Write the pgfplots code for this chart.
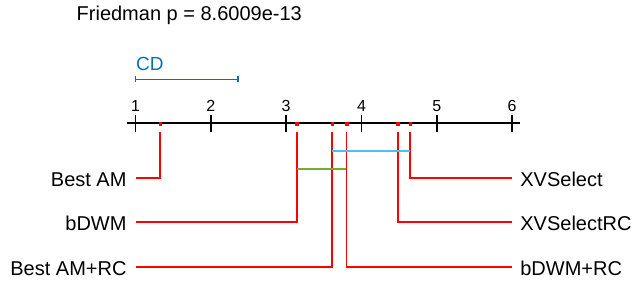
\documentclass[border=0pt]{standalone}
\usepackage{pgfplots}
\pgfplotsset{compat=1.18}
\usepackage{fontspec}
\setmainfont{Liberation Sans}
\definecolor{cdblue}{RGB}{0,114,189}
\definecolor{cliquecyan}{RGB}{77,190,238}
\definecolor{cliquegreen}{RGB}{119,172,48}
\begin{document}
\begin{tikzpicture}
\useasboundingbox (0,0) rectangle (644bp,294bp);
\begin{axis}[at={(0,0)}, anchor=south west, scale only axis,
  width=644bp, height=294bp,
  xmin=-0.7988, xmax=7.750, ymin=0, ymax=294, y dir=reverse,
  hide axis, clip=false]
% title
\node[anchor=base west, inner sep=0pt, font=\fontsize{20bp}{24bp}\selectfont] at (axis cs:0.2165,21) {Friedman p = 8.6009e-13};
% CD
\node[anchor=base west, inner sep=0pt, text=cdblue, font=\fontsize{19bp}{23bp}\selectfont] at (axis cs:1.006,70) {CD};
\addplot[cdblue, line width=1.6bp] coordinates {(1,79.3) (2.357,79.3)};
\addplot[cdblue, line width=1.6bp, unbounded coords=jump] coordinates {(1,76.3) (1,82.3) (nan,nan) (2.357,76.3) (2.357,82.3)};
% main axis
\addplot[black, line width=1.8bp] coordinates {(0.891,123.3) (6.106,123.3)};
\addplot[black, line width=1.8bp, unbounded coords=jump] coordinates {
 (1,115) (1,131.7) (nan,nan) (2,115) (2,131.7) (nan,nan) (3,115) (3,131.7) (nan,nan)
 (4,115) (4,131.7) (nan,nan) (5,115) (5,131.7) (nan,nan) (6,115) (6,131.7)};
\node[anchor=base, inner sep=0pt, font=\fontsize{16bp}{19bp}\selectfont] at (axis cs:1,111.7) {1};
\node[anchor=base, inner sep=0pt, font=\fontsize{16bp}{19bp}\selectfont] at (axis cs:2,111.7) {2};
\node[anchor=base, inner sep=0pt, font=\fontsize{16bp}{19bp}\selectfont] at (axis cs:3,111.7) {3};
\node[anchor=base, inner sep=0pt, font=\fontsize{16bp}{19bp}\selectfont] at (axis cs:4,111.7) {4};
\node[anchor=base, inner sep=0pt, font=\fontsize{16bp}{19bp}\selectfont] at (axis cs:5,111.7) {5};
\node[anchor=base, inner sep=0pt, font=\fontsize{16bp}{19bp}\selectfont] at (axis cs:6,111.7) {6};
% method connectors (average ranks)
\addplot[red, line width=1.8bp] coordinates {(1.327,131.7) (1.327,177.7) (1,177.7)};
\addplot[red, line width=1.8bp] coordinates {(3.142,131.7) (3.142,221.7) (1,221.7)};
\addplot[red, line width=1.8bp] coordinates {(3.612,131.7) (3.612,266.7) (1,266.7)};
\addplot[red, line width=1.8bp] coordinates {(3.800,131.7) (3.800,266.7) (6,266.7)};
\addplot[red, line width=1.8bp] coordinates {(4.480,131.7) (4.480,221.7) (6,221.7)};
\addplot[red, line width=1.8bp] coordinates {(4.645,131.7) (4.645,177.7) (6,177.7)};
% rank dots
\addplot[only marks, mark=square*, mark size=1.4bp, red, mark options={draw=none, fill=red}] coordinates {
 (1.327,123.3) (3.142,123.3) (3.612,123.3) (3.800,123.3) (4.480,123.3) (4.645,123.3)};
% cliques
\addplot[cliquecyan, line width=2bp] coordinates {(3.612,150.7) (4.645,150.7)};
\addplot[cliquegreen, line width=2bp] coordinates {(3.142,168.7) (3.800,168.7)};
% labels
\node[anchor=base east, inner sep=0pt, font=\fontsize{20bp}{24bp}\selectfont] at (axis cs:0.883,186.2) {Best AM};
\node[anchor=base east, inner sep=0pt, font=\fontsize{20bp}{24bp}\selectfont] at (axis cs:0.883,230.2) {bDWM};
\node[anchor=base east, inner sep=0pt, font=\fontsize{20bp}{24bp}\selectfont] at (axis cs:0.883,275.2) {Best AM+RC};
\node[anchor=base west, inner sep=0pt, font=\fontsize{20bp}{24bp}\selectfont] at (axis cs:6.106,186.2) {XVSelect};
\node[anchor=base west, inner sep=0pt, font=\fontsize{20bp}{24bp}\selectfont] at (axis cs:6.106,230.2) {XVSelectRC};
\node[anchor=base west, inner sep=0pt, font=\fontsize{20bp}{24bp}\selectfont] at (axis cs:6.106,275.2) {bDWM+RC};
\end{axis}
\end{tikzpicture}
\end{document}
